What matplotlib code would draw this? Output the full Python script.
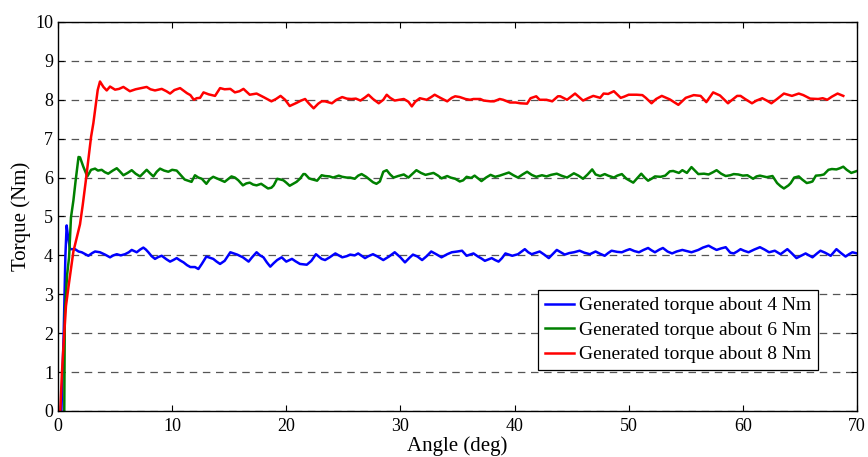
import matplotlib
matplotlib.use("Agg")
import matplotlib.pyplot as plt

plt.rcParams['font.family'] = ['Liberation Serif', 'DejaVu Serif']

# torque about 4 Nm
angle_4 = [0.3, 0.5, 0.65, 0.76, 0.85, 1.05, 1.49, 1.8, 2.08, 2.4, 2.66, 3.0, 3.25, 3.68, 4.12, 4.56, 4.85,
           5.15, 5.5, 5.87, 6.2, 6.46, 6.9, 7.2, 7.48, 7.7, 7.92, 8.2, 8.5, 8.8, 9.09, 9.5, 9.82, 10.1,
           10.4, 10.7, 11.0, 11.3, 11.6, 12.0, 12.3, 12.6, 13.0, 13.3, 13.6, 13.9, 14.2, 14.6, 15.1, 15.4,
           15.7, 16.2, 16.7, 17.0, 17.4, 17.7, 18.0, 18.3, 18.6, 18.9, 19.2, 19.6, 20.0, 20.5, 20.8, 21.2,
           21.8, 22.2, 22.6, 23.1, 23.4, 23.8, 24.3, 24.9, 25.3, 25.6, 26.0, 26.3, 26.9, 27.2, 27.6, 28.0,
           28.5, 29.0, 29.5, 30.0, 30.4, 30.8, 31.1, 31.5, 31.9, 32.3, 32.7, 33.2, 33.6, 34.1, 34.5, 35.0,
           35.4, 35.8, 36.1, 36.4, 36.8, 37.1, 37.4, 38.0, 38.3, 38.6, 38.9, 39.2, 39.5, 39.8, 40.3, 40.9,
           41.2, 41.5, 42.2, 42.6, 43.0, 43.4, 43.7, 44.1, 44.4, 44.8, 45.2, 45.7, 46.1, 46.6, 47.1, 47.5,
           47.9, 48.2, 48.5, 49.0, 49.4, 49.8, 50.1, 50.5, 50.9, 51.3, 51.7, 52.0, 52.3, 52.7, 53.0, 53.4,
           53.8, 54.2, 54.7, 55.1, 55.5, 56.1, 56.5, 57.0, 57.3, 57.7, 58.1, 58.5, 58.9, 59.2, 59.5, 59.8,
           60.1, 60.5, 61.0, 61.5, 61.9, 62.3, 62.8, 63.3, 63.9, 64.3, 64.7, 65.1, 65.5, 66.1, 66.5, 66.8,
           67.2, 67.7, 68.2, 68.6, 69.0, 69.3, 69.6, 70.0]
torque_4 = [0.0, 2.0, 4.0, 4.77, 4.55, 4.16, 4.16, 4.1, 4.08, 4.03, 3.99, 4.06, 4.1, 4.08, 4.02, 3.95, 4.0,
            4.03, 4.0, 4.03, 4.08, 4.14, 4.08, 4.15, 4.2, 4.15, 4.08, 3.98, 3.91, 3.96, 3.99, 3.9, 3.84, 3.88,
            3.93, 3.87, 3.82, 3.75, 3.7, 3.7, 3.65, 3.78, 3.97, 3.94, 3.91, 3.84, 3.78, 3.86, 4.08, 4.05,
            4.02, 3.95, 3.84, 3.95, 4.08, 4.0, 3.95, 3.82, 3.71, 3.8, 3.88, 3.95, 3.84, 3.91, 3.85, 3.78,
            3.76, 3.86, 4.03, 3.91, 3.88, 3.95, 4.05, 3.95, 3.98, 4.02, 4.0, 4.05, 3.93, 3.98, 4.03, 3.97,
            3.88, 3.97, 4.08, 3.95, 3.82, 3.94, 4.02, 3.97, 3.88, 3.98, 4.1, 4.02, 3.95, 4.03, 4.08, 4.1,
            4.12, 3.99, 4.02, 4.05, 3.97, 3.92, 3.86, 3.93, 3.88, 3.84, 3.93, 4.05, 4.02, 3.99, 4.03, 4.16,
            4.08, 4.03, 4.1, 4.02, 3.93, 4.05, 4.14, 4.07, 4.02, 4.06, 4.08, 4.12, 4.07, 4.03, 4.1, 4.04,
            3.99, 4.06, 4.12, 4.09, 4.08, 4.13, 4.16, 4.11, 4.08, 4.14, 4.19, 4.13, 4.08, 4.15, 4.19, 4.1,
            4.05, 4.1, 4.14, 4.11, 4.08, 4.14, 4.2, 4.25, 4.2, 4.14, 4.18, 4.21, 4.07, 4.05, 4.1, 4.16,
            4.12, 4.08, 4.15, 4.21, 4.15, 4.08, 4.12, 4.03, 4.16, 4.05, 3.93, 3.99, 4.05, 3.95, 4.05, 4.12,
            4.07, 3.99, 4.16, 4.06, 3.97, 4.03, 4.08, 4.05]

# torque about 6 Nm
angle_6 = [0.55, 0.6, 0.8, 0.97, 1.14, 1.35, 1.55, 1.8, 1.93, 2.05, 2.22, 2.57, 2.9, 3.25, 3.5, 3.83, 4.1,
           4.4, 4.8, 5.15, 5.45, 5.73, 6.1, 6.46, 6.8, 7.19, 7.5, 7.77, 8.1, 8.36, 8.65, 8.94, 9.3, 9.67,
           10.0, 10.4, 10.8, 11.1, 11.4, 11.7, 12.0, 12.3, 12.6, 13.0, 13.3, 13.6, 14.0, 14.3, 14.6, 15.2,
           15.5, 15.8, 16.2, 16.5, 16.8, 17.1, 17.4, 17.8, 18.1, 18.4, 18.7, 18.9, 19.2, 19.5, 19.75, 20.0,
           20.3, 20.6, 20.9, 21.2, 21.5, 21.65, 22.0, 22.2, 22.7, 23.1, 23.4, 23.8, 24.1, 24.6, 24.9, 25.3,
           25.6, 26.0, 26.3, 26.6, 27.0, 27.3, 27.6, 27.9, 28.2, 28.5, 28.8, 29.1, 29.4, 29.8, 30.3, 30.7,
           31.0, 31.4, 31.8, 32.2, 32.6, 32.9, 33.3, 33.6, 34.1, 34.4, 34.8, 35.2, 35.5, 35.8, 36.2, 36.5,
           36.8, 37.1, 37.5, 37.9, 38.3, 38.7, 39.1, 39.5, 39.9, 40.3, 40.7, 41.1, 41.5, 41.9, 42.4, 42.8,
           43.2, 43.7, 44.1, 44.6, 45.2, 45.6, 46.0, 46.4, 46.8, 47.1, 47.5, 47.9, 48.2, 48.7, 49.0, 49.4,
           49.8, 50.1, 50.4, 50.8, 51.1, 51.4, 51.7, 52.0, 52.3, 52.8, 53.2, 53.6, 53.9, 54.4, 54.7, 55.1,
           55.5, 55.8, 56.1, 56.6, 57.0, 57.4, 57.7, 58.1, 58.5, 58.9, 59.2, 59.6, 60.0, 60.4, 60.9, 61.2,
           61.5, 62.1, 62.6, 62.8, 63.0, 63.3, 63.6, 64.0, 64.2, 64.5, 64.9, 65.2, 65.6, 65.9, 66.1, 66.4,
           66.8, 67.1, 67.5, 67.8, 68.2, 68.5, 68.8, 69.1, 69.5, 70.0]
torque_6 = [0.0, 2.5, 3.5, 3.95, 4.98, 5.41, 5.93, 6.53, 6.52, 6.42, 6.28, 6.03, 6.2, 6.23, 6.18, 6.2, 6.14,
            6.1, 6.18, 6.24, 6.15, 6.06, 6.12, 6.19, 6.1, 6.03, 6.12, 6.2, 6.1, 6.03, 6.15, 6.23, 6.18, 6.15,
            6.2, 6.18, 6.05, 5.95, 5.92, 5.89, 6.06, 6.0, 5.97, 5.84, 5.96, 6.02, 5.97, 5.93, 5.89, 6.03,
            6.0, 5.93, 5.8, 5.85, 5.87, 5.82, 5.8, 5.84, 5.78, 5.72, 5.74, 5.8, 5.97, 5.95, 5.93, 5.87,
            5.79, 5.84, 5.89, 5.97, 6.09, 6.09, 5.98, 5.96, 5.92, 6.06, 6.04, 6.03, 6.0, 6.05, 6.02, 6.0,
            6.0, 5.97, 6.05, 6.09, 6.02, 5.95, 5.88, 5.84, 5.9, 6.15, 6.19, 6.08, 6.0, 6.04, 6.08, 6.0,
            6.08, 6.19, 6.12, 6.07, 6.1, 6.12, 6.05, 5.98, 6.04, 6.0, 5.97, 5.9, 5.93, 6.02, 5.99, 6.05,
            5.98, 5.91, 6.0, 6.07, 6.02, 6.05, 6.09, 6.13, 6.06, 6.0, 6.08, 6.15, 6.07, 6.02, 6.06, 6.03,
            6.07, 6.1, 6.05, 6.0, 6.11, 6.05, 5.97, 6.08, 6.21, 6.08, 6.04, 6.09, 6.05, 6.0, 6.05, 6.09,
            5.97, 5.92, 5.87, 6.0, 6.1, 6.0, 5.92, 5.97, 6.03, 6.02, 6.05, 6.16, 6.17, 6.12, 6.19, 6.12,
            6.27, 6.18, 6.09, 6.1, 6.08, 6.14, 6.19, 6.1, 6.04, 6.06, 6.09, 6.08, 6.05, 6.06, 5.97, 6.03,
            6.05, 6.01, 6.04, 5.95, 5.86, 5.78, 5.72, 5.8, 5.86, 6.0, 6.03, 5.95, 5.86, 5.88, 5.9, 6.05,
            6.06, 6.08, 6.2, 6.22, 6.21, 6.24, 6.28, 6.2, 6.12, 6.17]

# torque about 8 Nm
angle_8 = [0.2, 0.35, 0.55, 0.7, 0.97, 1.35, 1.8, 1.93, 2.17, 2.43, 2.72, 2.9, 3.1, 3.3, 3.48, 3.68, 3.98,
           4.27, 4.56, 5.0, 5.35, 5.73, 6.3, 6.8, 7.3, 7.77, 8.1, 8.5, 9.09, 9.5, 9.82, 10.2, 10.7, 11.3,
           11.6, 11.9, 12.15, 12.45, 12.75, 13.2, 13.76, 14.2, 14.6, 15.1, 15.5, 15.9, 16.25, 16.8, 17.4,
           18.0, 18.7, 19.1, 19.5, 19.9, 20.3, 20.6, 20.9, 21.3, 21.65, 22.0, 22.4, 22.8, 23.1, 23.4, 24.0,
           24.4, 24.9, 25.3, 25.7, 26.1, 26.5, 26.9, 27.2, 27.6, 28.1, 28.5, 28.8, 29.1, 29.5, 29.9, 30.3,
           30.7, 31.0, 31.3, 31.7, 32.3, 32.7, 33.0, 33.5, 34.1, 34.5, 34.8, 35.2, 35.7, 36.1, 36.4, 37.0,
           37.3, 37.9, 38.2, 38.7, 39.0, 39.6, 40.1, 40.5, 41.1, 41.4, 41.9, 42.2, 42.8, 43.3, 43.8, 44.0,
           44.6, 45.3, 46.0, 46.5, 46.9, 47.5, 47.8, 48.2, 48.7, 49.3, 49.6, 50.0, 50.4, 50.7, 51.2, 51.5,
           52.0, 52.4, 52.9, 53.6, 54.35, 55.0, 55.7, 56.3, 56.8, 57.4, 58.0, 58.7, 58.9, 59.5, 59.8, 60.2,
           60.8, 61.2, 61.7, 62.1, 62.5, 63.0, 63.6, 64.3, 64.9, 65.3, 65.9, 66.6, 67.0, 67.4, 67.8, 68.3,
           68.8]
torque_8 = [0.0, 1.0, 2.0, 2.7, 3.3, 4.1, 4.65, 4.8, 5.3, 5.9, 6.6, 7.05, 7.4, 7.85, 8.25, 8.47, 8.33,
            8.24, 8.34, 8.26, 8.28, 8.33, 8.22, 8.27, 8.3, 8.33, 8.27, 8.24, 8.28, 8.22, 8.16, 8.25, 8.3, 8.17,
            8.12, 8.0, 8.04, 8.05, 8.19, 8.14, 8.1, 8.3, 8.27, 8.28, 8.19, 8.22, 8.28, 8.13, 8.16,
            8.07, 7.96, 8.02, 8.1, 8.0, 7.84, 7.88, 7.92, 7.98, 8.02, 7.9, 7.78, 7.9, 7.96, 7.96, 7.91,
            8.0, 8.07, 8.03, 8.02, 8.03, 7.98, 8.06, 8.13, 8.02, 7.91, 8.0, 8.13, 8.05, 7.98, 8.0, 8.02,
            7.95, 7.83, 7.95, 8.04, 8.0, 8.07, 8.13, 8.05, 7.96, 8.05, 8.09, 8.07, 8.02, 8.0, 8.02, 8.02,
            7.98, 7.96, 7.96, 8.02, 8.0, 7.93, 7.93, 7.91, 7.9, 8.04, 8.09, 8.0, 8.0, 7.96, 8.09, 8.09,
            8.0, 8.16, 7.98, 8.05, 8.1, 8.05, 8.16, 8.15, 8.22, 8.05, 8.08, 8.13, 8.13, 8.13, 8.12, 8.05,
            7.91, 8.02, 8.1, 8.01, 7.87, 8.05, 8.12, 8.1, 7.94, 8.19, 8.11, 7.91, 7.96, 8.1, 8.1, 8.02,
            7.91, 7.98, 8.04, 7.98, 7.91, 8.02, 8.16, 8.1, 8.16, 8.12, 8.03, 8.02, 8.04, 8.0, 8.08, 8.16,
            8.1]

labels = ['Generated torque about 4 Nm', 'Generated torque about 6 Nm', 'Generated torque about 8 Nm']

fig = plt.figure(figsize=(8.68, 4.57), dpi=100)
ax = fig.add_axes([0.0668, 0.1007, 0.9205, 0.8512])

ax.plot(angle_4, torque_4, color=(0, 0, 1), lw=1.8, label=labels[0])
ax.plot(angle_6, torque_6, color=(0, 0.5, 0), lw=1.8, label=labels[1])
ax.plot(angle_8, torque_8, color=(1, 0, 0), lw=1.8, label=labels[2])

ax.set_xlim(0, 70)
ax.set_ylim(0, 10)
ax.set_xticks(range(0, 71, 10))
ax.set_yticks(range(0, 11))
ax.yaxis.grid(True, color='#555555', linestyle=(0, (6, 4.5)), linewidth=0.9)
ax.set_axisbelow(True)
ax.tick_params(direction='in', top=True, right=True, length=4, labelsize=13)
ax.tick_params(axis='x', pad=5)
for s in ax.spines.values():
    s.set_linewidth(1.0)

ax.set_xlabel('Angle (deg)', fontsize=15, labelpad=1)
ax.set_ylabel('Torque (Nm)', fontsize=15, labelpad=3)

leg = ax.legend(loc='lower right', bbox_to_anchor=(0.951, 0.105), borderaxespad=0,
                fontsize=14, fancybox=False, framealpha=1, edgecolor='black',
                handlelength=1.5, handletextpad=0.25, labelspacing=0.35, borderpad=0.35)
leg.get_frame().set_linewidth(0.9)

fig.savefig('out.png', dpi=100)
